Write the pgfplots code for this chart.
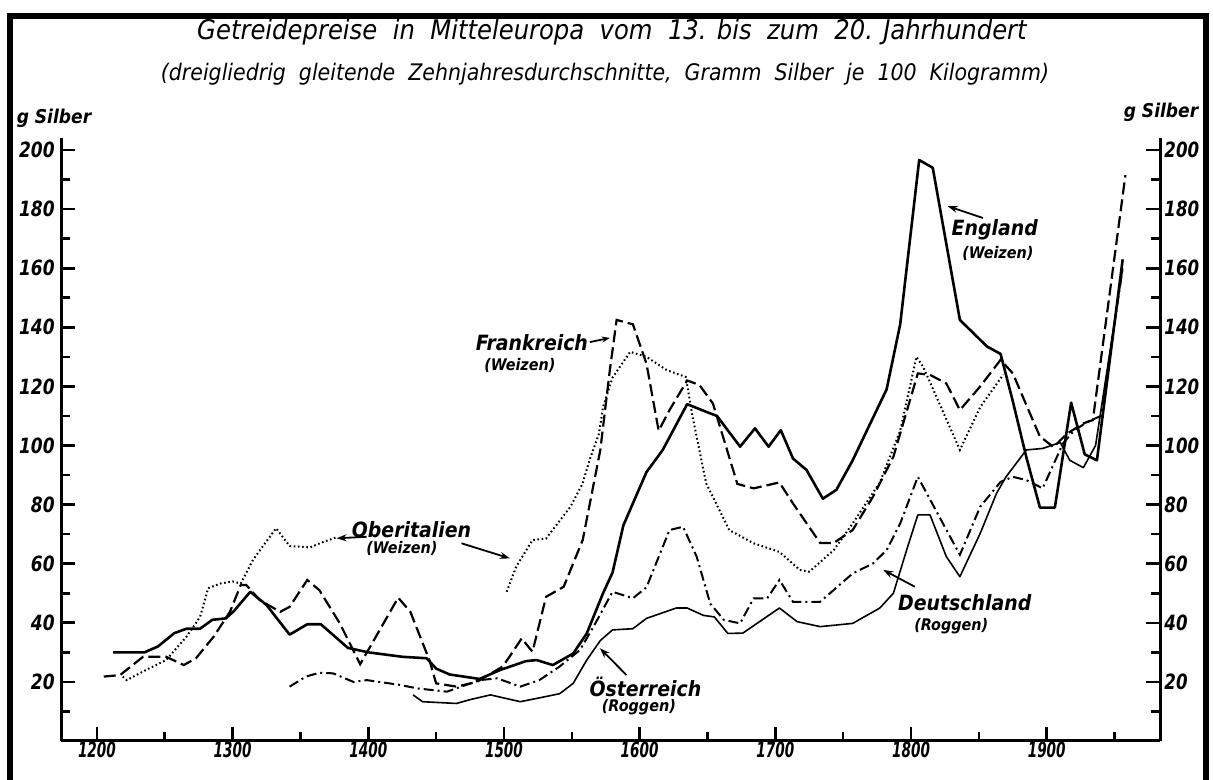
\documentclass[border=0pt]{standalone}
\usepackage{pgfplots}
\pgfplotsset{compat=1.18}
\usepackage{fontspec}
\setmainfont{DejaVu Sans Condensed}
\usetikzlibrary{arrows.meta}
\begin{document}
\begin{tikzpicture}
\path[use as bounding box] (0,0) rectangle (606.5pt,390pt);
\draw[line width=3pt, line join=miter] (4.75pt,0) -- (4.75pt,382pt) -- (603pt,382pt) -- (603pt,0);
\node[font=\fontsize{13.5}{16}\selectfont\itshape] at (306pt,374pt) {Getreidepreise\ \ in\ \ Mitteleuropa\ \ vom\ \ 13. bis\ \ zum\ \ 20. Jahrhundert};
\node[font=\fontsize{11.4}{13}\selectfont\itshape] at (302.5pt,353pt) {(dreigliedrig\ \ gleitende\ \ Zehnjahresdurchschnitte,\ \ Gramm\ \ Silber\ \ je\ \ 100\ \ Kilogramm)};
\node[font=\fontsize{9.5}{11}\selectfont\bfseries\itshape] at (27pt,331pt) {g Silber};
\node[font=\fontsize{9.5}{11}\selectfont\bfseries\itshape] at (580.5pt,334pt) {g Silber};

\begin{axis}[at={(30.5pt,19.5pt)}, anchor=south west, scale only axis,
  width=549.5pt, height=301.4pt,
  xmin=1173.5, xmax=1983.5, ymin=0, ymax=204,
  axis x line*=bottom, axis y line*=left,
  axis line style={line width=1.5pt},
  tick align=inside,
  major tick length=7pt, minor tick length=4.5pt,
  every tick/.style={black, line width=1.3pt},
  xtick={1200,1300,...,1900}, minor xtick={1250,1350,...,1950},
  ytick={20,40,...,200}, minor ytick={10,30,...,190},
  /pgf/number format/assume math mode=true,
  /pgf/number format/1000 sep={},
  ticklabel style={font=\fontsize{10.5}{12}\selectfont\bfseries\itshape},
  xticklabel style={xscale=0.72, yshift=3pt},
  yticklabel style={xscale=0.9},
  clip=false,
]
% England (Weizen)
\addplot[black, line width=1.3pt, line join=round] coordinates {
(1212,30) (1235,30) (1245,32) (1257,36.5) (1266,38) (1276,38) (1285,41) (1295,41.5)
(1301,44) (1313,50.5) (1325,46) (1342,36) (1355,39.5) (1365,39.5) (1385,31.5) (1400,30)
(1425,28.5) (1443,28) (1450,24.5) (1460,22.5) (1482,21) (1497,24) (1516,27) (1524,27.4)
(1536,25.7) (1551,29.6) (1561,36.4) (1573,50) (1580,57) (1588,73) (1605,91) (1617,98.5)
(1635,114) (1649,111.4) (1657,110) (1674,99.6) (1685,105.8) (1695,99.6) (1704,105.2)
(1713,95.6) (1723,91.7) (1735,82) (1745,85) (1757,95) (1770,107.5) (1782,119) (1792,141)
(1806,196.6) (1816,194) (1836,142.5) (1856,133.5) (1866,131) (1875,115) (1885,96)
(1895,79) (1906,79) (1918,114.5) (1928,97) (1937,95) (1956,163)};
% Frankreich (Weizen)
\addplot[black, line width=1.1pt, dash pattern=on 6pt off 2.5pt] coordinates {
(1205,21.8) (1217,22.3) (1234,28.5) (1251,28.5) (1264,25.7) (1273,28) (1286,35.3)
(1298,43.7) (1306,52.8) (1310,52.8) (1320,47.7) (1335,43.7) (1342,45.4) (1355,54.5)
(1364,51) (1379,39.8) (1394,26) (1422,48.5) (1431,43.7) (1445,27.4) (1450,19.5)
(1465,18.4) (1480,20) (1499,25.2) (1504,28.5) (1513,34.7) (1521,30.2) (1531,48.8)
(1544,52.2) (1558,68) (1571,98.5) (1578,125.5) (1583,142.5) (1595,141) (1605,127.7)
(1614,105) (1622,112) (1635,122) (1644,120.5) (1654,114.2) (1672,87) (1684,85.5)
(1703,87.5) (1713,80.4) (1733,67) (1743,67) (1757,71.4) (1772,82.7) (1787,96.2)
(1805,124.4) (1814,123.9) (1826,121) (1836,112) (1851,120) (1866,129) (1875,124.4)
(1895,103) (1905,99.5) (1915,104) (1927,107.5) (1934,108.6) (1958,191.5)};
% Oberitalien (Weizen), two pieces
\addplot[black, line width=1pt, dash pattern=on 0.8pt off 1.3pt] coordinates {
(1219,21.8) (1222,20.6) (1236,24) (1251,27.4) (1266,35.3) (1276,42) (1282,51.7)
(1291,53.3) (1300,54) (1306,53.3) (1315,61.3) (1332,72) (1342,66) (1357,65.5)
(1367,67.4) (1377,69)};
\addplot[black, line width=1pt, dash pattern=on 0.8pt off 1.3pt] coordinates {
(1502,50.5) (1509,59) (1521,68) (1531,68.5) (1549,79.3) (1558,87.2) (1563,95)
(1570,104) (1573,113) (1580,123) (1593,131.7) (1605,130) (1620,125.5) (1634,123.2)
(1639,109.7) (1649,87.2) (1666,71.4) (1684,66.9) (1703,64) (1718,57.9) (1725,57.3)
(1743,64.6) (1757,73.6) (1777,87.5) (1792,105) (1804,130) (1809,126.6) (1836,98.5)
(1851,113) (1868,124)};
% Deutschland (Roggen)
\addplot[black, line width=1pt, dash pattern=on 5pt off 2pt on 1pt off 2pt] coordinates {
(1342,18.4) (1354,21.8) (1364,23.1) (1374,22.9) (1389,20) (1399,20.6) (1423,19)
(1436,17.8) (1458,16.7) (1482,20.6) (1495,21.2) (1512,18.4) (1526,20.6) (1541,25.2)
(1556,30.8) (1566,38.7) (1580,50.5) (1595,48.3) (1605,52) (1622,71.4) (1632,72.5)
(1642,62.4) (1652,46.5) (1662,41) (1674,39.8) (1684,48.3) (1694,48.3) (1703,54.5)
(1713,47.1) (1733,47.1) (1757,56.7) (1772,60.1) (1782,64.6) (1792,73.6) (1805,89.4)
(1836,63) (1851,79.3) (1866,87.7) (1875,89.4) (1885,88.3) (1897,85.5) (1912,100.7)
(1920,105) (1930,108) (1940,110) (1956,160)};
% Oesterreich (Roggen)
\addplot[black, line width=0.8pt, line join=round] coordinates {
(1433,15.6) (1440,13.3) (1465,12.7) (1475,14) (1490,15.6) (1512,13.3) (1524,14.4)
(1541,16) (1551,19.5) (1561,27.4) (1571,34) (1580,37.6) (1595,38) (1605,41.5)
(1627,45) (1635,45) (1647,42.5) (1655,42) (1665,36.4) (1676,36.5) (1703,45)
(1716,40.4) (1733,38.7) (1757,39.8) (1777,45) (1787,50) (1797,65) (1805,76.5)
(1814,76.5) (1826,62.4) (1836,55.6) (1851,70.3) (1863,83.8) (1870,89.4) (1885,98.5)
(1897,99) (1910,101) (1917,95) (1927,92.5) (1936,100) (1956,160)};

% labels
\node[font=\fontsize{10.5}{12}\selectfont\bfseries\itshape] at (1861.7,172.9) {England};
\node[font=\fontsize{8}{10}\selectfont\bfseries\itshape] at (1864,165.1) {(Weizen)};
\draw[-{Stealth[length=5pt,width=3.5pt]}, line width=0.9pt] (1853,177) -- (1827,181);
\node[font=\fontsize{10.5}{12}\selectfont\bfseries\itshape] at (1520.6,134.7) {Frankreich};
\node[font=\fontsize{8}{10}\selectfont\bfseries\itshape] at (1511.7,127.2) {(Weizen)};
\draw[-{Stealth[length=4pt,width=3pt]}, line width=0.9pt] (1563.3,135) -- (1578,136.4);
\node[font=\fontsize{10.5}{12}\selectfont\bfseries\itshape] at (1431.8,71.4) {Oberitalien};
\node[font=\fontsize{8}{10}\selectfont\bfseries\itshape] at (1424.8,65.3) {(Weizen)};
\draw[-{Stealth[length=5pt,width=3.5pt]}, line width=0.9pt] (1398.7,69.1) -- (1376.6,68.6);
\draw[-{Stealth[length=5pt,width=3.5pt]}, line width=0.9pt] (1468.7,66.9) -- (1504.3,61.8);
\node[font=\fontsize{10.5}{12}\selectfont\bfseries\itshape] at (1604.2,18.3) {Österreich};
\node[font=\fontsize{8}{10}\selectfont\bfseries\itshape] at (1599.4,11.5) {(Roggen)};
\draw[-{Stealth[length=5pt,width=3.5pt]}, line width=0.9pt] (1590.3,22.3) -- (1570.7,31.4);
\node[font=\fontsize{10.5}{12}\selectfont\bfseries\itshape] at (1839.6,46.7) {Deutschland};
\node[font=\fontsize{8}{10}\selectfont\bfseries\itshape] at (1829.7,38.9) {(Roggen)};
\draw[-{Stealth[length=5pt,width=3.5pt]}, line width=0.9pt] (1802.8,52.2) -- (1779.5,57.9);
\end{axis}

\begin{axis}[at={(30.5pt,19.5pt)}, anchor=south west, scale only axis,
  width=549.5pt, height=301.4pt,
  xmin=1173.5, xmax=1983.5, ymin=0, ymax=204,
  axis y line*=right, axis x line=none,
  axis line style={line width=1.5pt},
  tick align=inside,
  major tick length=7pt, minor tick length=4.5pt,
  every tick/.style={black, line width=1.3pt},
  ytick={20,40,...,200}, minor ytick={10,30,...,190},
  /pgf/number format/assume math mode=true,
  ticklabel style={font=\fontsize{10.5}{12}\selectfont\bfseries\itshape},
  yticklabel style={xscale=0.88, xshift=-1pt},
]
\addplot[draw=none] coordinates {(1200,0)};
\end{axis}
\end{tikzpicture}
\end{document}
